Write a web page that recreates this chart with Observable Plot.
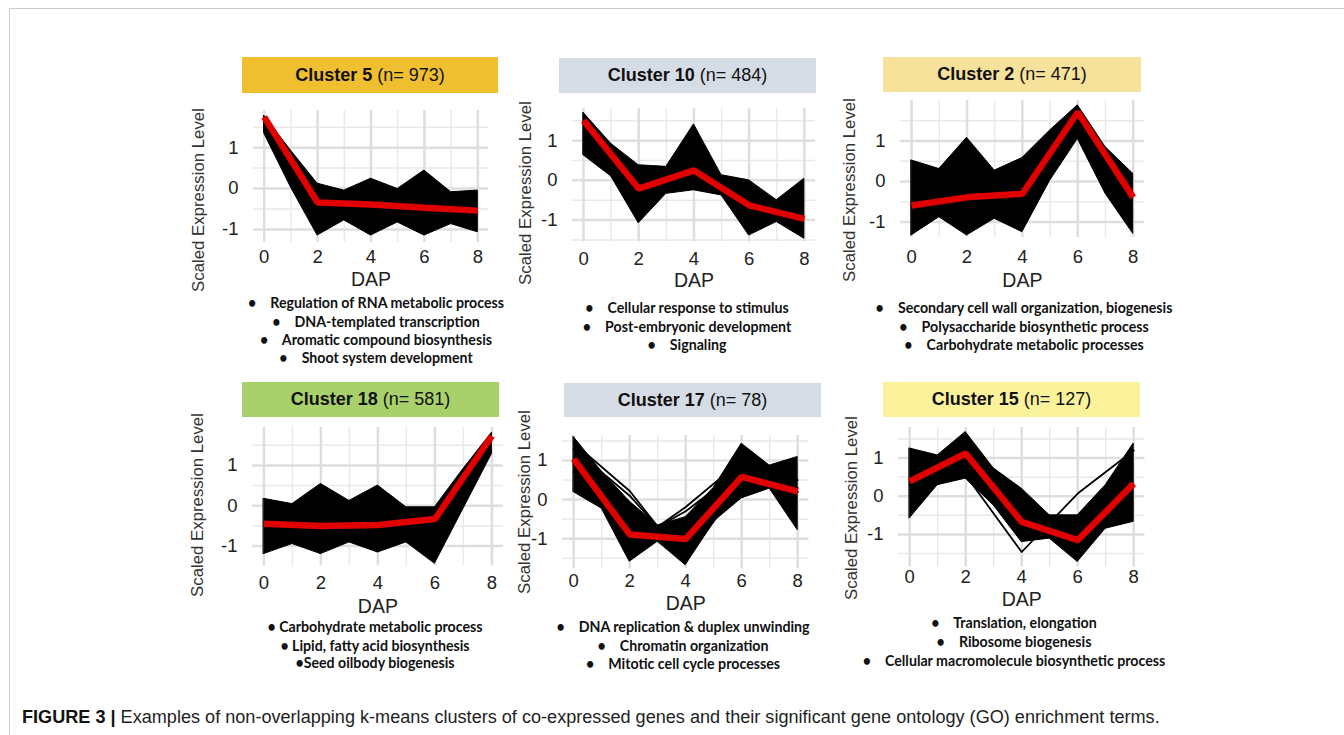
<!DOCTYPE html>
<html><head><meta charset="utf-8">
<script src="https://cdn.jsdelivr.net/npm/d3@7"></script>
<script src="https://cdn.jsdelivr.net/npm/@observablehq/plot@0.6"></script>
<style>
html,body{margin:0;padding:0;background:#fff;}
#fig{position:relative;width:1344px;height:735px;overflow:hidden;background:#fff;font-family:"Liberation Sans",Arial,sans-serif;}
.frame{position:absolute;left:9px;top:8px;width:1400px;height:800px;border-top:1.6px solid #cdcdcd;border-left:1.6px solid #cdcdcd;}
.title{position:absolute;display:flex;align-items:center;justify-content:center;font-size:18px;color:#111;white-space:pre;}
.title b{font-weight:700;}
.ylab{position:absolute;width:240px;height:20px;line-height:20px;text-align:center;font-size:16.8px;color:#333;transform:rotate(-90deg);white-space:nowrap;}
.go{position:absolute;width:440px;height:18px;line-height:18px;text-align:center;font-family:Lato,"Open Sans",sans-serif;font-weight:700;font-size:14.2px;color:#111;white-space:pre;}
</style></head>
<body><div id="fig"><div class="frame"></div></div>
<script>
// ---------------- data ----------------
const dap = [0, 2, 4, 6, 8];
const bandDap = [0, 1, 2, 3, 4, 5, 6, 7, 8];
const clusterIds = ["5", "10", "2", "18", "17", "15"];
const clusterSizes = [973, 484, 471, 581, 78, 127];

// Cluster 5
const c5Mean = [1.75, -0.34, -0.39, -0.47, -0.54];
const c5Hi = [1.78, 0.93, 0.12, -0.05, 0.24, -0.01, 0.44, -0.09, -0.05];
const c5Lo = [1.35, 0.03, -1.15, -0.78, -1.15, -0.83, -1.15, -0.87, -1.07];
const c5Extra = [];
// Cluster 10
const c10Mean = [1.51, -0.21, 0.25, -0.63, -0.97];
const c10Hi = [1.70, 0.92, 0.38, 0.34, 1.41, 0.13, 0.0, -0.5, 0.04];
const c10Lo = [0.63, 0.1, -1.08, -0.34, -0.25, -0.38, -1.39, -1.05, -1.47];
const c10Extra = [];
// Cluster 2
const c2Mean = [-0.59, -0.39, -0.30, 1.71, -0.39];
const c2Hi = [0.52, 0.31, 1.08, 0.27, 0.58, 1.26, 1.88, 0.85, 0.19];
const c2Lo = [-1.33, -0.88, -1.33, -0.92, -1.25, 0.02, 1.05, -0.30, -1.29];
const c2Extra = [];
// Cluster 18
const c18Mean = [-0.45, -0.50, -0.48, -0.33, 1.73];
const c18Hi = [0.17, 0.04, 0.54, 0.12, 0.50, -0.04, -0.04, 0.91, 1.81];
const c18Lo = [-1.2, -0.95, -1.2, -0.91, -1.16, -0.91, -1.44, -0.08, 1.28];
const c18Extra = [];
// Cluster 17
const c17Mean = [1.04, -0.89, -1.01, 0.58, 0.21];
const c17Hi = [1.6, 0.72, -0.05, -0.66, -0.45, 0.3, 1.43, 0.87, 1.09];
const c17Lo = [0.19, -0.23, -1.59, -1.08, -1.68, -0.57, 0.03, 0.28, -0.78];
const c17Extra = [[1.45, 0.22, -1.6, 0.5, 0.2], [1.3, 0.1, -1.5, 0.4, 0.3], [0.9, -1.2, -0.19, 1.0, 0.5], [0.7, -1.1, -0.3, 0.8, 0.2]];
// Cluster 15
const c15Mean = [0.39, 1.12, -0.67, -1.15, 0.33];
const c15Hi = [1.25, 1.07, 1.68, 0.73, 0.2, -0.5, -0.5, 0.29, 1.38];
const c15Lo = [-0.58, 0.29, 0.46, -0.24, -1.2, -1.11, -1.72, -0.85, -0.67];
const c15Extra = [[0.3, 0.55, -1.46, 0.07, 1.2]];

// GO terms
const c5Terms = ["Regulation of RNA metabolic process", "DNA-templated transcription", "Aromatic compound biosynthesis", "Shoot system development"];
const c10Terms = ["Cellular response to stimulus", "Post-embryonic development", "Signaling"];
const c2Terms = ["Secondary cell wall organization, biogenesis", "Polysaccharide biosynthetic process", "Carbohydrate metabolic processes"];
const c18Terms = ["Carbohydrate metabolic process", "Lipid, fatty acid biosynthesis", "Seed oilbody biogenesis"];
const c17Terms = ["DNA replication & duplex unwinding", "Chromatin organization", "Mitotic cell cycle processes"];
const c15Terms = ["Translation, elongation", "Ribosome biogenesis", "Cellular macromolecule biosynthetic process"];

const yTicks = [-1, 0, 1];
const yMinor = [-1.5, -0.5, 0.5, 1.5];
const xMinor = [1, 3, 5, 7];
const xLabel = "DAP";
const yLabel = "Scaled Expression Level";
const captionBold = "FIGURE 3 | ";
const captionText = "Examples of non-overlapping k-means clusters of co-expressed genes and their significant gene ontology (GO) enrichment terms.";

const means = [c5Mean, c10Mean, c2Mean, c18Mean, c17Mean, c15Mean];
const highs = [c5Hi, c10Hi, c2Hi, c18Hi, c17Hi, c15Hi];
const lows = [c5Lo, c10Lo, c2Lo, c18Lo, c17Lo, c15Lo];
const extras = [c5Extra, c10Extra, c2Extra, c18Extra, c17Extra, c15Extra];
const terms = [c5Terms, c10Terms, c2Terms, c18Terms, c17Terms, c15Terms];

// ---------------- layout / style ----------------
const W = "\u2003\u00a0";
const panelLayout = [
  {left: 252.8, top: 110, width: 235, height: 132, yDomain: [-1.32, 1.91], xPad: 7, dapDy: 37,
   title: {left: 242, top: 57, width: 256, height: 36, color: "#F0BF2F"}, ylab: [199, 200],
   go: {cx: 376, ys: [303, 322, 340, 358], gaps: [W, W, W, W]}},
  {left: 571.7, top: 108.3, width: 242.9, height: 133.4, yDomain: [-1.55, 1.81], xPad: 10, dapDy: 39,
   title: {left: 559, top: 58, width: 257, height: 35, color: "#D6DCE5"}, ylab: [526, 193],
   go: {cx: 687, ys: [308, 327, 345], gaps: [W, W, W]}},
  {left: 899.9, top: 100, width: 243.8, height: 137, yDomain: [-1.38, 2.0], xPad: 12, dapDy: 43,
   title: {left: 883, top: 57, width: 258, height: 35, color: "#F6E29A"}, ylab: [850, 190],
   go: {cx: 1024, ys: [308, 327, 345], gaps: [W, W, W]}},
  {left: 251.9, top: 426.7, width: 250.8, height: 138.3, yDomain: [-1.49, 1.94], xPad: 10, dapDy: 41,
   title: {left: 242, top: 382, width: 257, height: 35, color: "#A9D16B"}, ylab: [198, 505],
   go: {cx: 375, ys: [627, 646, 663], gaps: ["\u00a0", "\u00a0", ""]}},
  {left: 562.1, top: 435, width: 246.4, height: 133.3, yDomain: [-1.77, 1.64], xPad: 5, dapDy: 35,
   title: {left: 564, top: 383, width: 257, height: 34, color: "#D6DCE5"}, ylab: [525, 502],
   go: {cx: 683, ys: [627, 646, 664], gaps: [W, W, W]}},
  {left: 897.8, top: 427.3, width: 246.4, height: 139.4, yDomain: [-1.85, 1.80], xPad: 3, dapDy: 33,
   title: {left: 883, top: 382, width: 257, height: 35, color: "#FAF39B"}, ylab: [852, 508],
   go: {cx: 1014, ys: [623, 642, 661], gaps: [W, W, W]}}
];

const fig = document.getElementById("fig");
const mL = 70, mR = 12, mT = 12, mB = 70;

panelLayout.forEach((L, i) => {
  const bandRows = bandDap.map((d, j) => ({dap: d, lo: lows[i][j], hi: highs[i][j]}));
  const meanRows = dap.map((d, j) => ({dap: d, v: means[i][j]}));
  const extraRows = extras[i].flatMap((s, k) => dap.map((d, j) => ({id: k, dap: d, v: s[j]})));
  const minorY = yMinor.filter(v => v > L.yDomain[0] && v < L.yDomain[1]);
  const svg = Plot.plot({
    width: L.width + mL + mR, height: L.height + mT + mB,
    marginLeft: mL, marginRight: mR, marginTop: mT, marginBottom: mB,
    style: {fontFamily: '"Liberation Sans", Arial, sans-serif', fontSize: "18px", color: "#222", background: "transparent", overflow: "visible"},
    x: {domain: [-0.4, 8.4]},
    y: {domain: L.yDomain},
    marks: [
      Plot.gridX(xMinor, {stroke: "#e9e9e9", strokeOpacity: 1, strokeWidth: 1.5}),
      Plot.gridY(minorY, {stroke: "#e9e9e9", strokeOpacity: 1, strokeWidth: 1.5}),
      Plot.gridX(dap, {stroke: "#dedede", strokeOpacity: 1, strokeWidth: 2.5}),
      Plot.gridY(yTicks, {stroke: "#dedede", strokeOpacity: 1, strokeWidth: 2.5}),
      Plot.areaY(bandRows, {x: "dap", y1: "lo", y2: "hi", fill: "#000", stroke: "#000", strokeWidth: 1}),
      Plot.line(extraRows, {x: "dap", y: "v", z: "id", stroke: "#000", strokeWidth: 1.8}),
      Plot.line(meanRows, {x: "dap", y: "v", stroke: "#E10000", strokeWidth: 6.5, strokeLinejoin: "miter", strokeLinecap: "butt"}),
      Plot.axisX({ticks: dap, tickSize: 0, tickPadding: L.xPad, fontSize: 18.5, label: null, tickFormat: d => String(d)}),
      Plot.axisY({ticks: yTicks, tickSize: 0, tickPadding: 15, fontSize: 18.5, label: null, tickFormat: d => String(d)}),
      Plot.text([xLabel], {text: d => d, frameAnchor: "bottom", lineAnchor: "middle", dy: L.dapDy, fontSize: 19.5, fill: "#222"})
    ]
  });
  svg.style.position = "absolute";
  svg.style.left = (L.left - mL) + "px";
  svg.style.top = (L.top - mT) + "px";
  svg.style.maxWidth = "none";
  fig.appendChild(svg);

  // title box
  const t = document.createElement("div");
  t.className = "title";
  Object.assign(t.style, {left: L.title.left + "px", top: L.title.top + "px", width: L.title.width + "px", height: L.title.height + "px", background: L.title.color});
  const b = document.createElement("b");
  b.textContent = "Cluster " + clusterIds[i];
  t.appendChild(b);
  t.appendChild(document.createTextNode(" (n= " + clusterSizes[i] + ")"));
  fig.appendChild(t);

  // y label
  const yl = document.createElement("div");
  yl.className = "ylab";
  yl.textContent = yLabel;
  yl.style.left = (L.ylab[0] - 120) + "px";
  yl.style.top = (L.ylab[1] - 10) + "px";
  fig.appendChild(yl);

  // GO terms
  terms[i].forEach((txt, k) => {
    const g = document.createElement("div");
    g.className = "go";
    g.textContent = "\u2022" + L.go.gaps[k] + txt;
    g.style.left = (L.go.cx - 220) + "px";
    g.style.top = (L.go.ys[k] - 9) + "px";
    fig.appendChild(g);
  });
});

// caption
const cap = d3.select(fig).append("svg")
  .attr("width", 1344).attr("height", 735)
  .style("position", "absolute").style("left", "0px").style("top", "0px").style("pointer-events", "none");
const ct = cap.append("text")
  .attr("font-family", '"Liberation Sans", Arial, sans-serif')
  .attr("font-size", 18.5).attr("fill", "#222");
ct.append("tspan").attr("font-weight", 700).attr("fill", "#111").text(captionBold);
ct.append("tspan").text(captionText);
const natural = ct.node().getComputedTextLength();
const sx = 1138 / natural;
ct.attr("transform", `translate(22,723) scale(${sx},1)`);
</script>
</body></html>
